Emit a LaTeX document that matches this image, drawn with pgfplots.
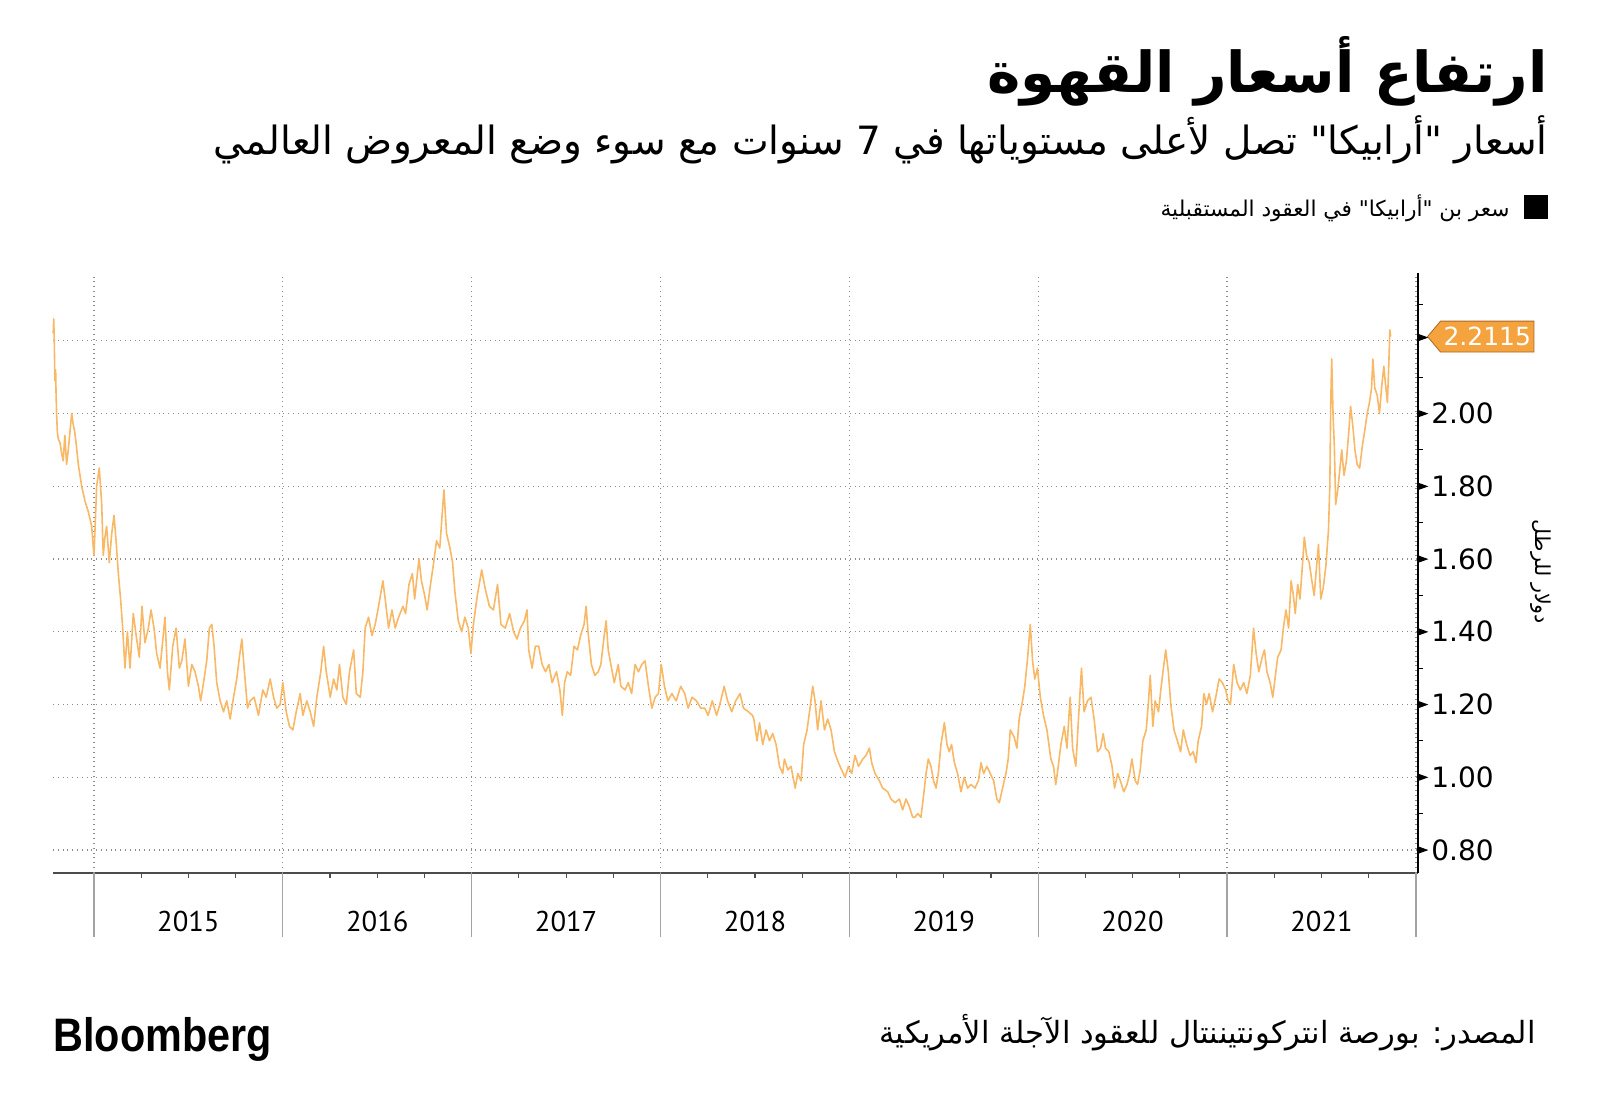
\documentclass[border=0pt]{standalone}
\usepackage{fontspec}
\usepackage{pgfplots}
\pgfplotsset{compat=1.18}
\usetikzlibrary{shapes.symbols}
\setmainfont{DejaVu Sans}
\newfontfamily\arabicfont[Script=Arabic]{DejaVu Sans}
\newfontfamily\ptsans{PT Sans}
\newfontfamily\dejavu{DejaVu Sans}
\newfontfamily\blfont{Liberation Sans}
\TeXXeTstate=1
\definecolor{linecol}{RGB}{248,184,102}
\definecolor{tagfill}{RGB}{245,163,62}
\definecolor{tagdraw}{RGB}{170,105,35}
\definecolor{gridcol}{RGB}{140,140,140}
\begin{document}
\begin{tikzpicture}
\path[use as bounding box] (0,0) rectangle (800pt,557.5pt);
% titles
\node[anchor=east, inner sep=0pt] at (774pt,522pt) {\resizebox{280pt}{!}{\arabicfont\bfseries\beginR ارتفاع أسعار القهوة\endR}};
\node[anchor=east, inner sep=0pt] at (774pt,487.5pt) {\resizebox{667pt}{!}{\arabicfont\beginR أسعار "أرابيكا" تصل لأعلى مستوياتها في 7 سنوات مع سوء وضع المعروض العالمي\endR}};
% legend
\fill[black] (762pt,448pt) rectangle (774pt,460pt);
\node[anchor=east, inner sep=0pt] at (755pt,453.5pt) {\resizebox{174.5pt}{!}{\arabicfont\beginR سعر بن "أرابيكا" في العقود المستقبلية\endR}};
\begin{axis}[
  at={(26.5pt,121.25pt)}, anchor=south west,
  width=682.5pt, height=299.5pt, scale only axis,
  xmin=2014.783, xmax=2022.011, ymin=0.738, ymax=2.385,
  axis x line*=bottom, axis y line*=right,
  x axis line style={draw=black!70, line width=1pt},
  y axis line style={draw=black, line width=0.8pt},
  clip=false,
  /pgf/number format/assume math mode=true,
  xtick={2015.5,2016.5,2017.5,2018.5,2019.5,2020.5,2021.5},
  xticklabels={2015,2016,2017,2018,2019,2020,2021},
  xticklabel style={font=\ptsans\fontsize{14.3}{16}\selectfont, anchor=north, inner sep=0pt, yshift=-19pt},
  major tick length=0pt,
  minor tick length=2.5pt,
  tick align=outside,
  extra x ticks={2015,2016,2017,2018,2019,2020,2021,2022},
  extra x tick labels={},
  extra x tick style={grid=major},
  ytick={0.8,1.0,1.2,1.4,1.6,1.8,2.0,2.2},
  minor ytick={0.9,1.1,1.3,1.5,1.7,1.9,2.1,2.3},
  minor y tick style={black, line width=0.6pt},
  ymajorgrids=true,
  major grid style={dotted, draw=gridcol, line width=0.6pt},
  yticklabel style={anchor=west, inner sep=0pt, font=\dejavu\fontsize{14}{16}\selectfont},
  yticklabel={\tikz[baseline=-0.36em]\fill[black] (0,-1.8pt)--(5pt,0)--(0,1.8pt)--cycle;\ifdim\tick pt<2.1pt\hspace{1.5pt}\pgfmathprintnumber[fixed,fixed zerofill,precision=2]{\tick}\fi},
]
\addplot[color=linecol, line width=0.8pt, line join=round] table {
2014.784 2.22
2014.787 2.26
2014.790 2.19
2014.793 2.09
2014.797 2.12
2014.799 2.06
2014.802 2.00
2014.806 1.95
2014.811 1.93
2014.820 1.92
2014.829 1.89
2014.837 1.87
2014.846 1.94
2014.855 1.86
2014.864 1.90
2014.873 1.95
2014.882 2.00
2014.890 1.97
2014.898 1.95
2014.905 1.92
2014.917 1.86
2014.935 1.80
2014.952 1.76
2014.970 1.73
2014.988 1.69
2014.995 1.64
2015.000 1.61
2015.007 1.70
2015.014 1.80
2015.028 1.85
2015.041 1.75
2015.049 1.61
2015.058 1.66
2015.067 1.69
2015.081 1.59
2015.094 1.67
2015.106 1.72
2015.117 1.65
2015.129 1.56
2015.141 1.49
2015.152 1.41
2015.164 1.30
2015.177 1.40
2015.191 1.30
2015.208 1.45
2015.226 1.38
2015.240 1.33
2015.254 1.47
2015.270 1.37
2015.288 1.41
2015.302 1.46
2015.318 1.41
2015.332 1.34
2015.350 1.30
2015.376 1.44
2015.389 1.29
2015.399 1.24
2015.417 1.36
2015.435 1.41
2015.452 1.30
2015.465 1.32
2015.482 1.38
2015.500 1.25
2015.518 1.31
2015.535 1.29
2015.553 1.25
2015.565 1.21
2015.583 1.27
2015.597 1.32
2015.611 1.41
2015.624 1.42
2015.636 1.36
2015.650 1.26
2015.668 1.21
2015.686 1.18
2015.703 1.21
2015.721 1.16
2015.739 1.22
2015.756 1.27
2015.770 1.33
2015.783 1.38
2015.795 1.30
2015.813 1.19
2015.827 1.21
2015.848 1.22
2015.871 1.17
2015.894 1.24
2015.912 1.22
2015.933 1.27
2015.951 1.22
2015.968 1.19
2015.986 1.20
2016.000 1.26
2016.018 1.18
2016.035 1.14
2016.053 1.13
2016.071 1.18
2016.092 1.23
2016.106 1.17
2016.127 1.21
2016.145 1.18
2016.163 1.14
2016.180 1.22
2016.201 1.29
2016.216 1.36
2016.230 1.29
2016.251 1.22
2016.269 1.27
2016.286 1.24
2016.300 1.31
2016.318 1.22
2016.336 1.20
2016.353 1.29
2016.375 1.35
2016.389 1.23
2016.410 1.22
2016.424 1.29
2016.436 1.41
2016.454 1.44
2016.472 1.39
2016.489 1.42
2016.507 1.47
2016.530 1.54
2016.542 1.49
2016.560 1.41
2016.578 1.46
2016.595 1.41
2016.613 1.44
2016.636 1.47
2016.650 1.45
2016.668 1.53
2016.686 1.56
2016.698 1.49
2016.721 1.60
2016.734 1.54
2016.751 1.50
2016.764 1.46
2016.782 1.53
2016.796 1.58
2016.814 1.65
2016.831 1.63
2016.853 1.79
2016.867 1.67
2016.885 1.63
2016.899 1.59
2016.911 1.51
2016.929 1.43
2016.947 1.40
2016.964 1.44
2016.982 1.41
2016.996 1.34
2017.009 1.42
2017.030 1.50
2017.053 1.57
2017.071 1.52
2017.094 1.47
2017.115 1.46
2017.137 1.53
2017.155 1.42
2017.178 1.41
2017.201 1.45
2017.222 1.40
2017.240 1.38
2017.258 1.41
2017.279 1.43
2017.293 1.46
2017.302 1.35
2017.320 1.30
2017.337 1.36
2017.355 1.36
2017.373 1.31
2017.391 1.29
2017.409 1.31
2017.426 1.26
2017.449 1.29
2017.467 1.24
2017.480 1.17
2017.492 1.26
2017.506 1.29
2017.524 1.28
2017.542 1.36
2017.560 1.35
2017.577 1.39
2017.595 1.42
2017.606 1.47
2017.616 1.40
2017.634 1.31
2017.652 1.28
2017.670 1.29
2017.684 1.31
2017.702 1.39
2017.712 1.43
2017.723 1.35
2017.737 1.31
2017.755 1.26
2017.776 1.31
2017.790 1.25
2017.812 1.24
2017.829 1.26
2017.847 1.23
2017.865 1.31
2017.883 1.29
2017.901 1.31
2017.918 1.32
2017.936 1.25
2017.954 1.19
2017.972 1.22
2017.989 1.23
2018.004 1.31
2018.021 1.25
2018.039 1.21
2018.060 1.23
2018.083 1.21
2018.107 1.25
2018.128 1.23
2018.146 1.19
2018.167 1.22
2018.190 1.21
2018.213 1.19
2018.234 1.19
2018.252 1.17
2018.274 1.21
2018.297 1.17
2018.314 1.20
2018.337 1.25
2018.355 1.21
2018.377 1.18
2018.398 1.21
2018.421 1.23
2018.439 1.19
2018.465 1.18
2018.487 1.17
2018.494 1.16
2018.511 1.10
2018.524 1.15
2018.541 1.09
2018.559 1.13
2018.577 1.10
2018.594 1.12
2018.612 1.09
2018.630 1.03
2018.647 1.01
2018.656 1.05
2018.674 1.02
2018.691 1.03
2018.713 0.97
2018.727 1.01
2018.744 0.99
2018.758 1.09
2018.776 1.13
2018.794 1.20
2018.806 1.25
2018.818 1.21
2018.832 1.13
2018.850 1.21
2018.868 1.13
2018.885 1.16
2018.903 1.13
2018.921 1.07
2018.942 1.04
2018.959 1.02
2018.977 1.00
2018.995 1.03
2019.012 1.01
2019.030 1.06
2019.048 1.03
2019.071 1.05
2019.088 1.06
2019.106 1.08
2019.118 1.04
2019.136 1.01
2019.159 0.99
2019.176 0.97
2019.203 0.96
2019.220 0.94
2019.242 0.93
2019.265 0.94
2019.282 0.91
2019.300 0.94
2019.317 0.92
2019.335 0.89
2019.347 0.89
2019.362 0.90
2019.379 0.89
2019.393 0.95
2019.406 1.01
2019.418 1.05
2019.432 1.03
2019.446 0.99
2019.459 0.97
2019.471 1.01
2019.485 1.09
2019.503 1.15
2019.517 1.09
2019.529 1.07
2019.541 1.09
2019.556 1.04
2019.573 1.01
2019.591 0.96
2019.608 1.00
2019.626 0.97
2019.644 0.98
2019.665 0.97
2019.683 0.99
2019.697 1.04
2019.711 1.01
2019.728 1.03
2019.746 1.01
2019.764 0.99
2019.781 0.94
2019.794 0.93
2019.811 0.97
2019.829 1.01
2019.841 1.05
2019.852 1.13
2019.873 1.11
2019.887 1.08
2019.899 1.16
2019.917 1.21
2019.929 1.25
2019.944 1.33
2019.958 1.42
2019.970 1.32
2019.982 1.27
2019.996 1.30
2020.011 1.22
2020.028 1.17
2020.046 1.13
2020.067 1.05
2020.081 1.03
2020.093 0.98
2020.106 1.03
2020.120 1.09
2020.138 1.14
2020.152 1.08
2020.169 1.22
2020.182 1.08
2020.199 1.03
2020.212 1.15
2020.229 1.30
2020.243 1.18
2020.261 1.21
2020.279 1.22
2020.296 1.16
2020.314 1.07
2020.330 1.08
2020.344 1.12
2020.356 1.08
2020.374 1.07
2020.391 1.03
2020.404 0.97
2020.421 1.01
2020.435 0.99
2020.453 0.96
2020.470 0.98
2020.484 1.01
2020.496 1.05
2020.514 0.99
2020.526 0.98
2020.540 1.02
2020.554 1.10
2020.572 1.13
2020.584 1.21
2020.593 1.28
2020.607 1.14
2020.619 1.21
2020.637 1.18
2020.649 1.24
2020.663 1.30
2020.675 1.35
2020.689 1.29
2020.702 1.20
2020.719 1.13
2020.737 1.10
2020.754 1.07
2020.768 1.13
2020.786 1.09
2020.804 1.06
2020.821 1.07
2020.835 1.04
2020.847 1.10
2020.865 1.14
2020.877 1.23
2020.891 1.20
2020.905 1.23
2020.923 1.18
2020.940 1.22
2020.958 1.27
2020.975 1.26
2020.993 1.24
2021.005 1.21
2021.018 1.20
2021.035 1.31
2021.053 1.26
2021.070 1.24
2021.088 1.26
2021.105 1.23
2021.123 1.28
2021.140 1.41
2021.154 1.34
2021.168 1.29
2021.186 1.33
2021.198 1.35
2021.211 1.29
2021.228 1.26
2021.242 1.22
2021.256 1.28
2021.268 1.33
2021.286 1.35
2021.298 1.41
2021.312 1.46
2021.326 1.41
2021.339 1.54
2021.351 1.50
2021.361 1.45
2021.374 1.53
2021.386 1.49
2021.400 1.59
2021.409 1.66
2021.421 1.61
2021.435 1.59
2021.449 1.54
2021.461 1.50
2021.474 1.58
2021.484 1.64
2021.496 1.49
2021.509 1.52
2021.523 1.58
2021.537 1.68
2021.544 1.80
2021.549 2.03
2021.554 2.15
2021.561 2.00
2021.568 1.91
2021.575 1.75
2021.586 1.79
2021.596 1.84
2021.607 1.90
2021.619 1.83
2021.632 1.87
2021.646 1.96
2021.654 2.02
2021.667 1.96
2021.677 1.90
2021.689 1.86
2021.702 1.85
2021.716 1.91
2021.728 1.95
2021.742 2.00
2021.754 2.03
2021.765 2.07
2021.772 2.15
2021.782 2.07
2021.795 2.05
2021.807 2.00
2021.818 2.07
2021.830 2.13
2021.839 2.08
2021.849 2.03
2021.856 2.13
2021.862 2.23
2021.866 2.2115
};
\pgfplotsinvokeforeach{2015,2016,2017,2018,2019,2020,2021,2022}{
  \draw[gridcol!80, line width=0.6pt] (axis cs:#1,0.738) -- ([yshift=-32pt]axis cs:#1,0.738);
}
\pgfplotsinvokeforeach{2015.25,2015.5,2015.75,2016.25,2016.5,2016.75,2017.25,2017.5,2017.75,2018.25,2018.5,2018.75,2019.25,2019.5,2019.75,2020.25,2020.5,2020.75,2021.25,2021.5,2021.75}{
  \draw[black!70, line width=0.6pt] (axis cs:#1,0.738) -- ([yshift=-2.5pt]axis cs:#1,0.738);
}
\coordinate (tagpos) at (axis cs:2022.011,2.2115);
\end{axis}
\node[signal, signal to=west, signal pointer angle=100, fill=tagfill, draw=tagdraw, line width=0.4pt, text=white, font=\dejavu\fontsize{12.5}{14}\selectfont, inner xsep=1.5pt, inner ysep=3pt, anchor=west] at ([xshift=4.5pt]tagpos) {2.2115};
% y label
\node[rotate=-90, inner sep=0pt] at (770.5pt,271.5pt) {\resizebox{52pt}{!}{\arabicfont\beginR دولار للرطل\endR}};
% footer
\node[anchor=east, inner sep=0pt] at (768pt,41pt) {\resizebox{328pt}{!}{\arabicfont\beginR المصدر: بورصة انتركونتيننتال للعقود الآجلة الأمريكية\endR}};
\node[anchor=base west, inner sep=0pt] at (26.5pt,32pt) {\scalebox{0.88}[1]{\blfont\bfseries\fontsize{23.5}{24}\selectfont Bloomberg}};
\end{tikzpicture}
\end{document}
